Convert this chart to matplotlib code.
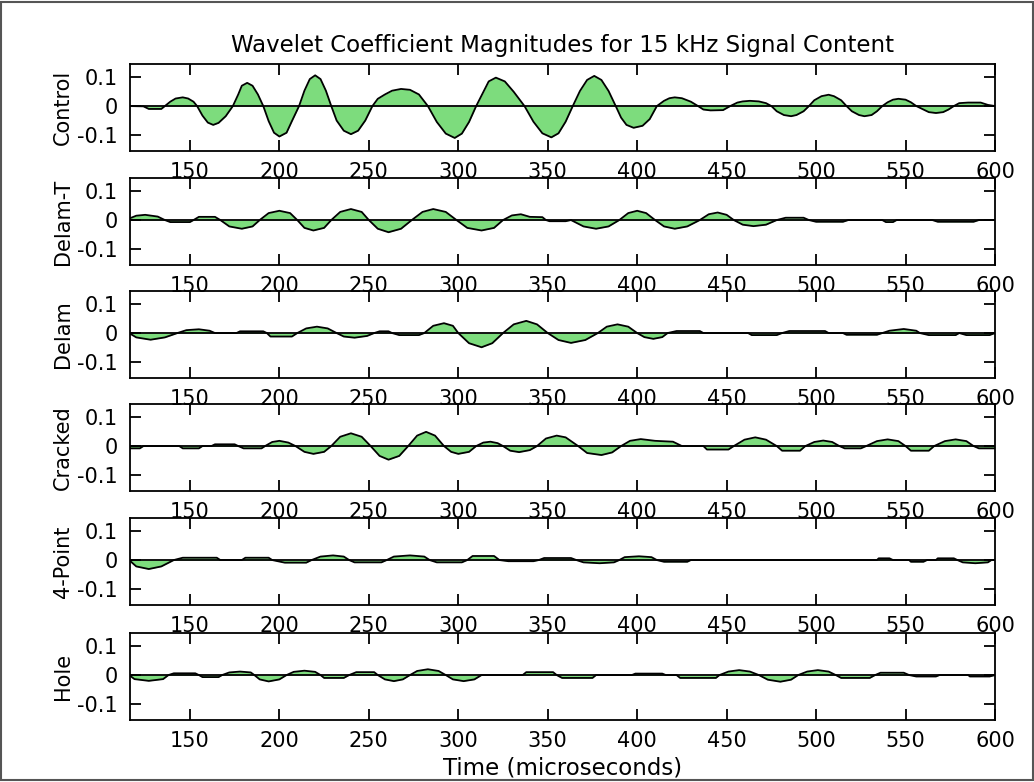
import numpy as np
import matplotlib
matplotlib.use("Agg")
import matplotlib.pyplot as plt
from matplotlib.patches import Rectangle

plt.rcParams['font.family'] = ['DejaVu Sans']

labels = ["Control", "Delam-T", "Delam", "Cracked", "4-Point", "Hole"]
x_ticks = [150, 200, 250, 300, 350, 400, 450, 500, 550, 600]
y_ticks = [-0.1, 0, 0.1]
y_tick_labels = ["-0.1", "0", "0.1"]

t_control = [116, 124, 127, 134, 136,
             139, 142, 146, 149, 152, 154,
             157, 160, 163, 166, 170, 174,
             177, 179, 182, 185, 188, 191,
             194, 197, 200, 204, 207, 211,
             214, 217, 220, 223, 226, 229,
             232, 236, 240, 244, 248, 252,
             255, 259, 263, 268, 273, 278, 283,
             288, 293, 298, 302, 306, 310,
             314, 317, 321, 326, 331, 337,
             342, 347, 352, 356, 360, 364,
             368, 372, 376, 380, 384, 388,
             391, 394, 398, 403, 407, 411,
             415, 418, 421, 425, 430, 434,
             437, 441, 448, 452,
             456, 459, 463, 468, 472, 475,
             478, 482, 486, 489, 493, 496,
             499, 503, 507, 510, 514, 517,
             520, 524, 527, 531, 534, 537,
             540, 543, 546, 550, 553, 556,
             560, 563, 567, 571, 574, 577,
             580, 585, 592, 596, 600]
v_control = [0.0, -0.001, -0.01, -0.01, 0.0,
             0.015, 0.026, 0.03, 0.026, 0.015, 0.0,
             -0.033, -0.057, -0.065, -0.058, -0.035, 0.0,
             0.04, 0.07, 0.08, 0.07, 0.04, 0.0,
             -0.052, -0.092, -0.105, -0.092, -0.052, 0.0,
             0.053, 0.093, 0.106, 0.093, 0.053, 0.0,
             -0.05, -0.085, -0.097, -0.085, -0.05, 0.0,
             0.025, 0.04, 0.053, 0.059, 0.056, 0.04, 0.0,
             -0.055, -0.095, -0.11, -0.095, -0.055, 0.0,
             0.049, 0.085, 0.098, 0.085, 0.049, 0.0,
             -0.054, -0.094, -0.108, -0.094, -0.054, 0.0,
             0.052, 0.09, 0.104, 0.09, 0.052, 0.0,
             -0.04, -0.065, -0.075, -0.068, -0.045, 0.0,
             0.018, 0.027, 0.03, 0.027, 0.015, 0.0,
             -0.012, -0.015, -0.014, 0.0,
             0.012, 0.016, 0.018, 0.016, 0.01, 0.0,
             -0.018, -0.031, -0.035, -0.031, -0.018, 0.0,
             0.02, 0.034, 0.039, 0.034, 0.02, 0.0,
             -0.018, -0.031, -0.035, -0.031, -0.018, 0.0,
             0.013, 0.022, 0.025, 0.022, 0.013, 0.0,
             -0.012, -0.021, -0.024, -0.021, -0.012, 0.0,
             0.01, 0.012, 0.012, 0.004, 0.0]

t_delam_t = [116, 120, 125, 132, 136, 139, 150, 152, 155, 164, 167, 172, 179, 185, 189, 194,
             200, 206, 210, 214, 219, 225, 229, 234, 240, 246, 250, 255, 261, 268, 274, 280,
             286, 293, 299, 305, 313, 320, 325, 330, 335, 340, 347, 349, 351, 360, 363, 370,
             377, 384, 390, 395, 400, 405, 410, 415, 421, 428, 435, 440, 445, 450, 454, 459,
             465, 472, 478, 483, 493, 496, 500, 515, 518, 537, 539, 543, 545, 565, 568, 588,
             591, 600]
v_delam_t = [0.005, 0.015, 0.018, 0.012, 0.0, -0.007, -0.007, 0.0, 0.011, 0.011, 0.0, -0.022, -0.03, -0.022, 0.0, 0.024,
             0.032, 0.024, 0.0, -0.027, -0.036, -0.027, 0.0, 0.028, 0.038, 0.028, 0.0, -0.03, -0.042, -0.03, 0.0, 0.028,
             0.038, 0.028, 0.0, -0.027, -0.036, -0.027, 0.0, 0.016, 0.02, 0.011, 0.01, 0.0, -0.004, -0.004, 0.0, -0.022,
             -0.03, -0.022, 0.0, 0.024, 0.032, 0.024, 0.0, -0.022, -0.03, -0.022, 0.0, 0.02, 0.026, 0.018, 0.0, -0.016,
             -0.021, -0.016, 0.0, 0.008, 0.008, 0.0, -0.006, -0.006, 0.0, 0.0, -0.007, -0.007, 0.0, 0.0, -0.006, -0.006,
             0.0, 0.0]

t_delam = [116, 120, 128, 136, 143, 148, 155, 161, 164, 176, 178, 191, 193, 195, 207, 210,
           215, 221, 227, 232, 236, 242, 249, 253, 256, 261, 263, 267, 278, 281, 286, 292,
           297, 300, 306, 313, 319, 325, 331, 338, 344, 350, 356, 363, 371, 378, 383, 389,
           395, 400, 404, 409, 414, 417, 422, 435, 437, 462, 464, 478, 481, 485, 505, 507,
           515, 517, 534, 537, 541, 549, 556, 558, 563, 578, 580, 584, 597, 600]
v_delam = [0.0, -0.015, -0.023, -0.015, 0.0, 0.01, 0.013, 0.008, 0.0, 0.0, 0.006, 0.006, 0.0, -0.012, -0.012, 0.0,
           0.016, 0.022, 0.016, 0.0, -0.012, -0.016, -0.01, 0.0, 0.006, 0.006, 0.0, -0.007, -0.007, 0.0, 0.025, 0.034,
           0.025, 0.0, -0.035, -0.049, -0.035, 0.0, 0.03, 0.042, 0.03, 0.0, -0.024, -0.034, -0.024, 0.0, 0.022, 0.03,
           0.022, 0.0, -0.014, -0.02, -0.014, 0.0, 0.007, 0.007, 0.0, 0.0, -0.007, -0.007, 0.0, 0.007, 0.007, 0.0,
           0.0, -0.006, -0.006, 0.0, 0.008, 0.014, 0.008, 0.0, -0.007, -0.007, 0.0, -0.007, -0.007, 0.0]

t_cracked = [116, 122, 124, 144, 146, 155, 157, 162, 164, 175, 177, 180, 190, 192, 196, 200,
             205, 209, 214, 219, 225, 229, 234, 240, 246, 251, 256, 261, 267, 272, 277, 282,
             287, 292, 296, 300, 306, 310, 314, 318, 322, 325, 329, 334, 340, 344, 349, 355,
             360, 367, 372, 380, 386, 391, 396, 402, 410, 420, 425, 437, 439, 451, 454, 460,
             466, 472, 478, 481, 491, 494, 499, 504, 509, 513, 516, 525, 528, 534, 540, 546,
             550, 553, 563, 566, 572, 578, 584, 588, 591, 600]
v_cracked = [-0.008, -0.008, 0.0, 0.0, -0.008, -0.008, 0.0, 0.0, 0.006, 0.006, 0.0, -0.008, -0.008, 0.0, 0.014, 0.018,
             0.012, 0.0, -0.02, -0.027, -0.02, 0.0, 0.032, 0.044, 0.032, 0.0, -0.034, -0.047, -0.034, 0.0, 0.036, 0.049,
             0.036, 0.0, -0.02, -0.027, -0.02, 0.0, 0.012, 0.015, 0.01, 0.0, -0.016, -0.021, -0.014, 0.0, 0.026, 0.036,
             0.03, 0.0, -0.024, -0.031, -0.022, 0.0, 0.018, 0.024, 0.018, 0.015, 0.0, 0.0, -0.012, -0.012, 0.0, 0.022,
             0.03, 0.022, 0.0, -0.016, -0.016, 0.0, 0.014, 0.019, 0.014, 0.0, -0.008, -0.008, 0.0, 0.017, 0.023, 0.017,
             0.0, -0.016, -0.016, 0.0, 0.017, 0.023, 0.017, 0.0, -0.008, -0.008]

t_four_point = [116, 120, 127, 134, 141, 146, 165, 167, 179, 181, 194, 196, 203, 215, 218, 223,
                230, 236, 239, 242, 257, 260, 264, 273, 281, 284, 288, 302, 305, 308, 320, 323,
                328, 342, 345, 348, 363, 366, 370, 379, 387, 390, 393, 401, 408, 411, 415, 428,
                430, 534, 535, 541, 543, 552, 553, 560, 562, 567, 568, 577, 579, 582, 589, 596,
                598, 600]
v_four_point = [0.0, -0.022, -0.031, -0.022, 0.0, 0.008, 0.008, 0.0, 0.0, 0.008, 0.008, 0.0, -0.009, -0.009, 0.0, 0.012,
                0.016, 0.012, 0.0, -0.008, -0.008, 0.0, 0.012, 0.016, 0.012, 0.0, -0.008, -0.008, 0.0, 0.014, 0.014, 0.0,
                -0.004, -0.004, 0.0, 0.007, 0.007, 0.0, -0.008, -0.011, -0.008, 0.0, 0.01, 0.013, 0.01, 0.0, -0.006, -0.006,
                0.0, 0.0, 0.006, 0.006, 0.0, 0.0, -0.006, -0.006, 0.0, 0.0, 0.006, 0.006, 0.0, -0.008, -0.011, -0.008,
                0.0, 0.0]

t_hole = [116, 119, 127, 135, 138, 141, 153, 155, 157, 166, 168, 172, 178, 184, 186, 189,
          194, 200, 204, 208, 214, 220, 223, 225, 236, 239, 243, 253, 255, 259, 264, 269,
          273, 277, 283, 289, 293, 297, 303, 309, 313, 336, 338, 353, 355, 358, 375, 377,
          397, 399, 414, 416, 422, 424, 444, 446, 451, 457, 463, 468, 473, 480, 486, 490,
          495, 501, 507, 511, 514, 530, 533, 536, 549, 552, 556, 567, 569, 585, 586, 597,
          600]
v_hole = [0.0, -0.014, -0.02, -0.014, 0.0, 0.006, 0.006, 0.0, -0.007, -0.007, 0.0, 0.009, 0.012, 0.009, 0.0, -0.015,
          -0.022, -0.015, 0.0, 0.011, 0.015, 0.011, 0.0, -0.01, -0.01, 0.0, 0.01, 0.01, 0.0, -0.015, -0.021, -0.015,
          0.0, 0.014, 0.02, 0.014, 0.0, -0.015, -0.021, -0.015, 0.0, 0.0, 0.01, 0.01, 0.0, -0.01, -0.01, 0.0,
          0.0, 0.005, 0.005, 0.0, 0.0, -0.01, -0.01, 0.0, 0.012, 0.017, 0.012, 0.0, -0.016, -0.023, -0.016, 0.0,
          0.012, 0.017, 0.012, 0.0, -0.01, -0.01, 0.0, 0.008, 0.008, 0.0, -0.005, -0.005, 0.0, 0.0, -0.005, -0.005,
          0.0]

series = [(t_control, v_control), (t_delam_t, v_delam_t), (t_delam, v_delam),
          (t_cracked, v_cracked), (t_four_point, v_four_point), (t_hole, v_hole)]

fill_color = '#7ddc7d'
tick_size = 15
label_size = 15
title_size = 16.5

fig = plt.figure(figsize=(10.34, 7.82), dpi=100)
fig.patches.append(Rectangle((0.001, 0.002), 0.998, 0.996, transform=fig.transFigure,
                             fill=False, edgecolor='#555555', linewidth=1.5))

left, width, height = 130 / 1034, 865 / 1034, 87 / 782
tops = [64, 178, 291, 404, 518, 633]

for i, (name, (t, v)) in enumerate(zip(labels, series)):
    assert len(t) == len(v), name
    ax = fig.add_axes([left, 1 - (tops[i] + 87) / 782, width, height])
    t = np.array(t, dtype=float)
    v = np.array(v, dtype=float)
    ax.fill_between(t, v, 0, color=fill_color, linewidth=0)
    ax.axhline(0, color='k', linewidth=1.3)
    ax.plot(t, v, color='k', linewidth=1.3)
    ax.set_xlim(116.5, 600)
    ax.set_ylim(-0.155, 0.145)
    ax.set_xticks(x_ticks)
    ax.set_yticks(y_ticks)
    ax.set_yticklabels(y_tick_labels)
    ax.tick_params(direction='in', length=8, width=1.3, top=True, right=True,
                   labelsize=tick_size)
    ax.tick_params(axis='x', pad=8)
    ax.tick_params(axis='y', pad=9)
    ax.set_ylabel(name, fontsize=label_size, labelpad=3)
    for s in ax.spines.values():
        s.set_linewidth(1.3)
    ax.set_zorder(len(labels) - i)
    if i == 0:
        ax.set_title("Wavelet Coefficient Magnitudes for 15 kHz Signal Content",
                     fontsize=title_size, pad=9)
    if i == len(labels) - 1:
        ax.set_xlabel("Time (microseconds)", fontsize=title_size, labelpad=4)

fig.savefig("out.png", dpi=100)
